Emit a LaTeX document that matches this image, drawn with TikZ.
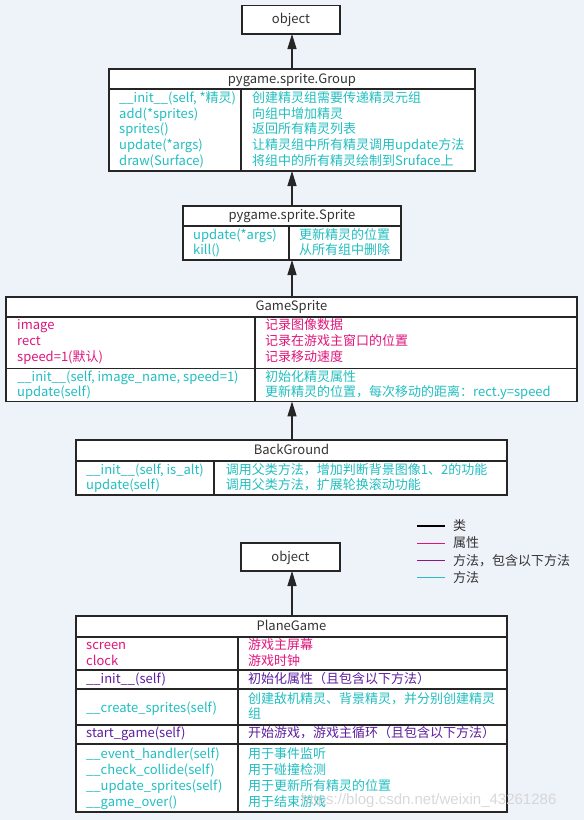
\documentclass[tikz,border=0pt]{standalone}
\usepackage{fontspec}
\setmainfont{Noto Sans CJK SC}
\newfontfamily\wmfont{Liberation Sans}
\usetikzlibrary{arrows.meta}
\definecolor{bg}{HTML}{EEF2F9}
\definecolor{edge}{HTML}{262626}
\definecolor{head}{HTML}{333333}
\definecolor{attrc}{HTML}{E0157B}
\definecolor{methc}{HTML}{22BEC0}
\definecolor{purpc}{HTML}{5E1E9E}
\definecolor{legpurp}{HTML}{8A168A}
\definecolor{wmgray}{HTML}{D2D2D2}
\tikzset{
  box/.style={draw=edge, line width=1.8pt, fill=white, inner sep=0pt, outer sep=0pt},
  sepline/.style={draw=edge, line width=1.6pt},
  basetxt/.style={inner sep=0pt, text height=10pt, text depth=2pt, font=\fontsize{13}{15}\selectfont},
  hdr/.style={basetxt, text=head},
  txt/.style={basetxt, anchor=west},
  attr/.style={txt, text=attrc},
  meth/.style={txt, text=methc},
  purp/.style={txt, text=purpc},
  legtxt/.style={txt, text=head},
  legbar/.style={draw=none, minimum width=28pt, minimum height=1.4pt, inner sep=0pt, outer sep=0pt, anchor=west},
  inh/.style={draw=edge, line width=1.3pt, -{Triangle[width=9pt,length=15pt]}},
  wm/.style={inner sep=0pt, anchor=west, font=\wmfont\fontsize{15}{18}\selectfont},
}
\begin{document}
\begin{tikzpicture}[x=1pt,y=-1pt]
\fill[bg] (0,0) rectangle (584,820);
\useasboundingbox (0,0) rectangle (584,820);

% ---------- object (top)
\node[box, minimum width=98pt, minimum height=28.5pt] (obj1) at (291,19.75) {};
\node[hdr] (obj1t) at (obj1.center) {object};

% ---------- pygame.sprite.Group
\node[box, minimum width=366pt, minimum height=102pt] (group) at (292,120) {};
\draw[sepline] (group.west |- 0,89) -- (group.east |- 0,89);
\draw[sepline] (241,89) -- (241 ,0 |- group.south);
\node[hdr] (groupt) at (292,79) {pygame.sprite.Group};
\node[meth] (g1) at (119,98.3) {\_\_init\_\_(self, *精灵)};
\node[meth] (g2) at (119,114) {add(*sprites)};
\node[meth] (g3) at (119,129.8) {sprites()};
\node[meth] (g4) at (119,145.7) {update(*args)};
\node[meth] (g5) at (119,161.5) {draw(Surface)};
\node[meth] (gr1) at (252,98.3) {创建精灵组需要传递精灵元组};
\node[meth] (gr2) at (252,114) {向组中增加精灵};
\node[meth] (gr3) at (252,129.8) {返回所有精灵列表};
\node[meth] (gr4) at (252,145.7) {让精灵组中所有精灵调用update方法};
\node[meth] (gr5) at (252,161.5) {将组中的所有精灵绘制到Sruface上};

% ---------- pygame.sprite.Sprite
\node[box, minimum width=218pt, minimum height=54pt] (sprite) at (292,233) {};
\draw[sepline] (sprite.west |- 0,226) -- (sprite.east |- 0,226);
\draw[sepline] (289,226) -- (289,0 |- sprite.south);
\node[hdr] (spritet) at (292,215.5) {pygame.sprite.Sprite};
\node[meth] (s1) at (193,235) {update(*args)};
\node[meth] (s2) at (193,250) {kill()};
\node[meth] (sr1) at (299,235) {更新精灵的位置};
\node[meth] (sr2) at (299,250) {从所有组中删除};

% ---------- GameSprite
\node[box, minimum width=571pt, minimum height=104.5pt] (gs) at (291.5,349.2) {};
\draw[sepline] (gs.west |- 0,316.7) -- (gs.east |- 0,316.7);
\draw[sepline] (gs.west |- 0,368.5) -- (gs.east |- 0,368.5);
\draw[sepline] (255,316.7) -- (255,0 |- gs.south);
\node[hdr] (gst) at (291.5,306.5) {GameSprite};
\node[attr] (ga1) at (17,325.7) {image};
\node[attr] (ga2) at (17,341.7) {rect};
\node[attr] (ga3) at (17,357.7) {speed=1(默认)};
\node[attr] (gar1) at (265,325.7) {记录图像数据};
\node[attr] (gar2) at (265,341.7) {记录在游戏主窗口的位置};
\node[attr] (gar3) at (265,357.7) {记录移动速度};
\node[meth] (gm1) at (17,377) {\_\_init\_\_(self, image\_name, speed=1)};
\node[meth] (gm2) at (17,392.7) {update(self)};
\node[meth] (gmr1) at (265,377) {初始化精灵属性};
\node[meth] (gmr2) at (265,392.7) {更新精灵的位置，每次移动的距离：rect.y=speed};

% ---------- BackGround
\node[box, minimum width=431pt, minimum height=55pt] (bgc) at (291.5,467.5) {};
\draw[sepline] (bgc.west |- 0,461) -- (bgc.east |- 0,461);
\draw[sepline] (214,461) -- (214,0 |- bgc.south);
\node[hdr] (bgct) at (291.5,450) {BackGround};
\node[meth] (b1) at (86,470) {\_\_init\_\_(self, is\_alt)};
\node[meth] (b2) at (86,485.7) {update(self)};
\node[meth] (br1) at (225.7,470) {调用父类方法，增加判断背景图像1、2的功能};
\node[meth] (br2) at (225.7,485.7) {调用父类方法，扩展轮换滚动功能};

% ---------- legend
\node[legbar, fill=black] (lb1) at (417,526) {};
\node[legbar, fill=attrc] (lb2) at (417,543.5) {};
\node[legbar, fill=legpurp] (lb3) at (417,560.5) {};
\node[legbar, fill=methc] (lb4) at (417,577.5) {};
\node[legtxt] (l1) at (453,526) {类};
\node[legtxt] (l2) at (453,543.5) {属性};
\node[legtxt] (l3) at (453,561) {方法，包含以下方法};
\node[legtxt] (l4) at (453,578) {方法};

% ---------- object (bottom)
\node[box, minimum width=99pt, minimum height=28pt] (obj2) at (290.5,557) {};
\node[hdr] (obj2t) at (obj2.center) {object};

% ---------- PlaneGame
\node[box, minimum width=431pt, minimum height=196pt] (pg) at (291.5,714) {};
\draw[sepline] (pg.west |- 0,637) -- (pg.east |- 0,637);
\draw[sepline] (pg.west |- 0,670) -- (pg.east |- 0,670);
\draw[sepline] (pg.west |- 0,689) -- (pg.east |- 0,689);
\draw[sepline] (pg.west |- 0,725) -- (pg.east |- 0,725);
\draw[sepline] (pg.west |- 0,744) -- (pg.east |- 0,744);
\draw[sepline] (238,637) -- (238,0 |- pg.south);
\node[hdr] (pgt) at (291.5,626) {PlaneGame};
\node[attr] (pa1) at (86,645.7) {screen};
\node[attr] (pa2) at (86,661) {clock};
\node[attr] (par1) at (248,645.7) {游戏主屏幕};
\node[attr] (par2) at (248,661) {游戏时钟};
\node[purp] (pi) at (86,679.5) {\_\_init\_\_(self)};
\node[purp] (pir) at (248,679.5) {初始化属性（且包含以下方法）};
\node[meth] (pc) at (86,708) {\_\_create\_sprites(self)};
\node[meth] (pcr1) at (248,699) {创建敌机精灵、背景精灵，并分别创建精灵};
\node[meth] (pcr2) at (248,714.5) {组};
\node[purp] (ps) at (86,733.5) {start\_game(self)};
\node[purp] (psr) at (248,733.5) {开始游戏，游戏主循环（且包含以下方法）};
\node[meth] (pm1) at (86,754) {\_\_event\_handler(self)};
\node[meth] (pm2) at (86,770) {\_\_check\_collide(self)};
\node[meth] (pm3) at (86,786) {\_\_update\_sprites(self)};
\node[meth] (pm4) at (86,802) {\_\_game\_over()};
\node[meth] (pmr1) at (248,754) {用于事件监听};
\node[meth] (pmr2) at (248,770) {用于碰撞检测};
\node[meth] (pmr3) at (248,786) {用于更新所有精灵的位置};
\node[meth] (pmr4) at (248,802) {用于结束游戏};

% ---------- inheritance arrows
\draw[inh] (group.north) -- (obj1.south -| group.north);
\draw[inh] (sprite.north) -- (group.south -| sprite.north);
\draw[inh] (sprite.south |- gs.north) -- (sprite.south);
\draw[inh] (sprite.south |- bgc.north) -- (sprite.south |- gs.south);
\draw[inh] (sprite.south |- pg.north) -- (sprite.south |- obj2.south);

% ---------- watermark
\node[wm, text=wmgray, opacity=0.85] (wm) at (301,801) {https://blog.csdn.net/weixin\_43261286};
\end{tikzpicture}
\end{document}
